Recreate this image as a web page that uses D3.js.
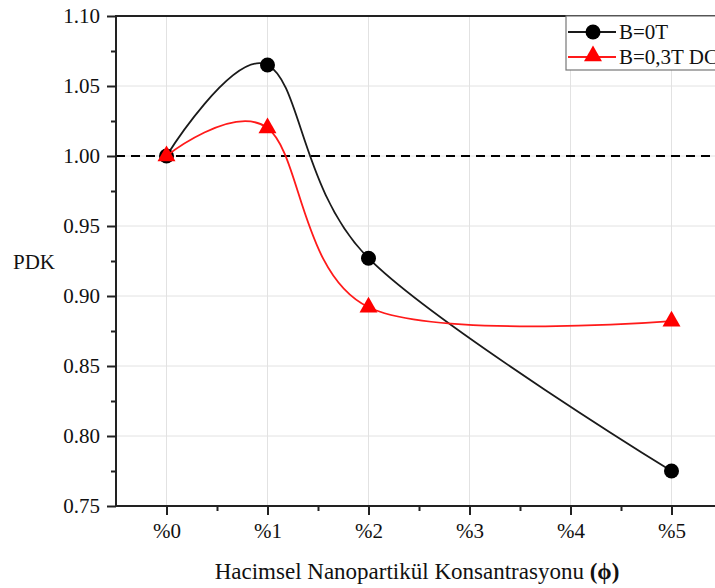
<!DOCTYPE html>
<html>
<head>
<meta charset="utf-8">
<script src="https://cdn.jsdelivr.net/npm/d3@7"></script>
<style>
  html, body { margin: 0; padding: 0; background: #fff; overflow: hidden; }
  svg { display: block; }
  text { font-family: "Liberation Serif", "Times New Roman", serif; fill: #111; }
</style>
</head>
<body>
<svg id="chart" width="715" height="588"></svg>
<script>
// ---- data ----
const categories = ["%0", "%1", "%2", "%3", "%4", "%5"];
const categoryX = [0, 1, 2, 3, 4, 5];
const pointX = [0, 1, 2, 5];
const seriesB0 = [1.000, 1.065, 0.927, 0.775];
const seriesB03 = [1.000, 1.020, 0.892, 0.882];
const seriesNames = ["B=0T", "B=0,3T DC"];
const yTicks = [0.75, 0.80, 0.85, 0.90, 0.95, 1.00, 1.05, 1.10];
const yMinorTicks = [0.775, 0.825, 0.875, 0.925, 0.975, 1.025, 1.075];
const xMinorTicks = [0.5, 1.5, 2.5, 3.5, 4.5];
const referenceValue = 1.00;
const xTitle = "Hacimsel Nanopartikül Konsantrasyonu ";
const xTitleSymbol = "(ϕ)";
const yTitle = "PDK";

(function () {
// ---- layout ----
const svg = d3.select("#chart");
const pLeft = 116, pRight = 722, pTop = 16, pBottom = 506;
const x = d3.scaleLinear().domain([-0.5, 5.5]).range([pLeft, pRight]);
const y = d3.scaleLinear().domain([0.75, 1.10]).range([pBottom, pTop]);
const axisColor = "#222";

// grid
const grid = svg.append("g");
grid.selectAll("line.gx").data(categoryX).enter().append("line")
  .attr("x1", d => x(d)).attr("x2", d => x(d))
  .attr("y1", pTop).attr("y2", pBottom)
  .attr("stroke", "#e2e2e2").attr("stroke-width", 1);
grid.selectAll("line.gy").data(yTicks.slice(1, -1)).enter().append("line")
  .attr("x1", pLeft).attr("x2", pRight)
  .attr("y1", d => y(d)).attr("y2", d => y(d))
  .attr("stroke", "#e2e2e2").attr("stroke-width", 1);

// reference dashed line
svg.append("line")
  .attr("x1", pLeft).attr("x2", pRight)
  .attr("y1", y(referenceValue)).attr("y2", y(referenceValue))
  .attr("stroke", "#000").attr("stroke-width", 2)
  .attr("stroke-dasharray", "9,6");

// axes
const xAxis = d3.axisBottom(x).tickValues(categoryX)
  .tickFormat((d, i) => categories[i]).tickSize(9).tickPadding(8);
const gx = svg.append("g").attr("transform", `translate(0,${pBottom})`).call(xAxis);
gx.select(".domain").remove();
gx.selectAll(".tick line").attr("stroke", axisColor).attr("stroke-width", 2);
gx.selectAll(".tick text").attr("font-size", 21).attr("fill", "#111")
  .attr("font-family", "Liberation Serif, Times New Roman, serif");

const gxm = svg.append("g").attr("transform", `translate(0,${pBottom})`)
  .call(d3.axisBottom(x).tickValues(xMinorTicks).tickSize(5).tickFormat(""));
gxm.select(".domain").remove();
gxm.selectAll(".tick line").attr("stroke", axisColor).attr("stroke-width", 2);

const yAxis = d3.axisLeft(y).tickValues(yTicks)
  .tickFormat(d3.format(".2f")).tickSize(9).tickPadding(7);
const gy = svg.append("g").attr("transform", `translate(${pLeft},0)`).call(yAxis);
gy.select(".domain").remove();
gy.selectAll(".tick line").attr("stroke", axisColor).attr("stroke-width", 2);
gy.selectAll(".tick text").attr("font-size", 21).attr("fill", "#111")
  .attr("font-family", "Liberation Serif, Times New Roman, serif");

const gym = svg.append("g").attr("transform", `translate(${pLeft},0)`)
  .call(d3.axisLeft(y).tickValues(yMinorTicks).tickSize(5).tickFormat(""));
gym.select(".domain").remove();
gym.selectAll(".tick line").attr("stroke", axisColor).attr("stroke-width", 2);

// frame
svg.append("rect")
  .attr("x", pLeft).attr("y", pTop)
  .attr("width", pRight - pLeft).attr("height", pBottom - pTop)
  .attr("fill", "none").attr("stroke", axisColor).attr("stroke-width", 2);

// curves
const line = d3.line()
  .x((d, i) => x(pointX[i]))
  .y(d => y(d))
  .curve(d3.curveCardinal.tension(0));

svg.append("path").datum(seriesB0)
  .attr("d", line).attr("fill", "none")
  .attr("stroke", "#1a1a1a").attr("stroke-width", 1.8);
svg.selectAll("circle.b0").data(seriesB0).enter().append("circle")
  .attr("cx", (d, i) => x(pointX[i])).attr("cy", d => y(d))
  .attr("r", 7.5).attr("fill", "#000");

svg.append("path").datum(seriesB03)
  .attr("d", line).attr("fill", "none")
  .attr("stroke", "#ff1a1a").attr("stroke-width", 1.8);
const tri = d3.symbol().type(d3.symbolTriangle).size(140);
svg.selectAll("path.b03").data(seriesB03).enter().append("path")
  .attr("d", tri)
  .attr("transform", (d, i) => `translate(${x(pointX[i])},${y(d)})`)
  .attr("fill", "#ff0000");

// axis titles
svg.append("text")
  .attr("x", 13).attr("y", 269)
  .attr("font-size", 21).text(yTitle);

const xt = svg.append("text")
  .attr("x", 417).attr("y", 579)
  .attr("text-anchor", "middle").attr("font-size", 23);
xt.append("tspan").text(xTitle);
xt.append("tspan").attr("font-weight", "bold").text(xTitleSymbol);

// legend
const lg = svg.append("g");
lg.append("rect")
  .attr("x", 566).attr("y", pTop).attr("width", 200).attr("height", 54)
  .attr("fill", "#fff").attr("stroke", "#777").attr("stroke-width", 1.2);
const legendRows = [
  { name: seriesNames[0], color: "#1a1a1a", fill: "#000", sym: "circle", yy: 32 },
  { name: seriesNames[1], color: "#ff1a1a", fill: "#ff0000", sym: "triangle", yy: 57 }
];
legendRows.forEach(r => {
  lg.append("line").attr("x1", 568).attr("x2", 616)
    .attr("y1", r.yy).attr("y2", r.yy)
    .attr("stroke", r.color).attr("stroke-width", 1.8);
  if (r.sym === "circle") {
    lg.append("circle").attr("cx", 593).attr("cy", r.yy).attr("r", 7.5).attr("fill", r.fill);
  } else {
    lg.append("path").attr("d", tri)
      .attr("transform", `translate(593,${r.yy - 1})`).attr("fill", r.fill);
  }
  lg.append("text").attr("x", 619).attr("y", r.yy + 7)
    .attr("font-size", 21).text(r.name);
});
})();
</script>
</body>
</html>
